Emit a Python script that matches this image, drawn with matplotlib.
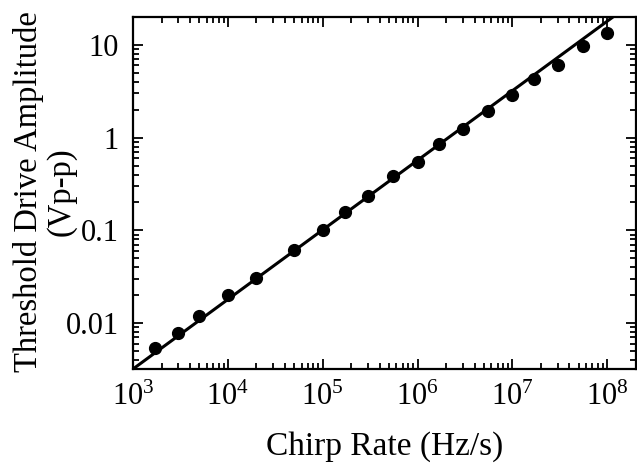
import numpy as np
import matplotlib.pyplot as plt
from matplotlib.ticker import LogLocator, NullFormatter, FixedLocator

plt.rcParams['font.family'] = 'Liberation Serif'
plt.rcParams['mathtext.fontset'] = 'custom'
plt.rcParams['mathtext.rm'] = 'Liberation Serif'
plt.rcParams['mathtext.it'] = 'Liberation Serif'

# measured threshold points
chirp_rate = [1.7e3, 3e3, 5e3, 1e4, 2e4, 5e4, 1e5, 1.7e5, 3e5, 5.5e5,
              1e6, 1.7e6, 3e6, 5.5e6, 1e7, 1.7e7, 3e7, 5.5e7, 1e8]
threshold = [0.0054, 0.0078, 0.0119, 0.020, 0.0306, 0.061, 0.10, 0.158, 0.235, 0.386,
             0.546, 0.855, 1.24, 1.94, 2.88, 4.29, 6.08, 9.76, 13.5]

# power-law fit line (slope 3/4), endpoints
fit_x = [1e3, 2e8]
fit_y = [0.0032, 30.3]

x_ticks = [1e3, 1e4, 1e5, 1e6, 1e7, 1e8]
x_labels = ['$10^3$', '$10^4$', '$10^5$', '$10^6$', '$10^7$', '$10^8$']
y_ticks = [0.01, 0.1, 1, 10]
y_labels = ['0.01', '0.1', '1', '10']

fig = plt.figure(figsize=(6.37, 4.70), dpi=100)
ax = fig.add_axes([0.2088, 0.2149, 0.7892, 0.7489])

ax.plot(fit_x, fit_y, color='black', lw=2.2, zorder=2)
ax.plot(chirp_rate, threshold, 'o', color='black', ms=8.5, zorder=3)

ax.set_xscale('log')
ax.set_yscale('log')
ax.set_xlim(1e3, 2e8)
ax.set_ylim(0.0032, 20)

ax.xaxis.set_major_locator(FixedLocator(x_ticks))
ax.set_xticklabels(x_labels, fontsize=22)
ax.yaxis.set_major_locator(FixedLocator(y_ticks))
ax.set_yticklabels(y_labels, fontsize=22)
ax.xaxis.set_minor_locator(LogLocator(base=10, subs=np.arange(2, 10), numticks=20))
ax.yaxis.set_minor_locator(LogLocator(base=10, subs=np.arange(2, 10), numticks=20))
ax.xaxis.set_minor_formatter(NullFormatter())
ax.yaxis.set_minor_formatter(NullFormatter())

ax.tick_params(which='both', direction='in', top=True, right=True, width=1.3)
ax.tick_params(which='major', length=7, pad=10)
ax.tick_params(which='minor', length=4)
for s in ax.spines.values():
    s.set_linewidth(1.6)

ax.set_xlabel('Chirp Rate (Hz/s)', fontsize=24, labelpad=14)
ax.set_ylabel('Threshold Drive Amplitude\n(Vp-p)', fontsize=23.5, linespacing=1.05)
ax.yaxis.set_label_coords(-0.113, 0.505)

plt.savefig('out.png', dpi=100)
